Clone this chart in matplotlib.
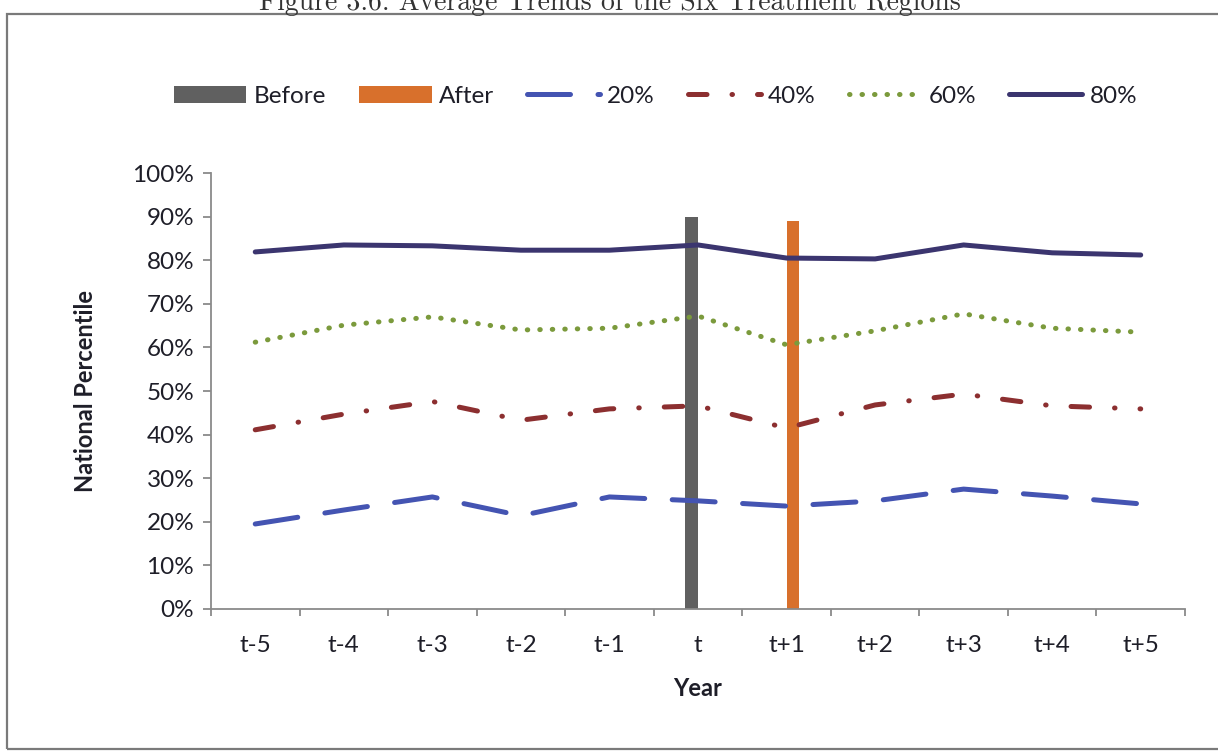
import matplotlib
matplotlib.use("Agg")
import matplotlib.pyplot as plt
import matplotlib.patches as mpatches
from matplotlib.ticker import FixedLocator, PercentFormatter
import numpy as np

plt.rcParams['font.family'] = ['Lato', 'DejaVu Sans']

years = ["t-5", "t-4", "t-3", "t-2", "t-1", "t", "t+1", "t+2", "t+3", "t+4", "t+5"]
before = [np.nan, np.nan, np.nan, np.nan, np.nan, 90, np.nan, np.nan, np.nan, np.nan, np.nan]
after = [np.nan, np.nan, np.nan, np.nan, np.nan, np.nan, 89, np.nan, np.nan, np.nan, np.nan]
p20 = [19.5, 22.7, 25.7, 21.4, 25.7, 24.8, 23.6, 24.8, 27.5, 25.9, 24.1]
p40 = [41.1, 44.7, 47.6, 43.3, 45.9, 46.6, 41.5, 46.8, 49.3, 46.6, 45.9]
p60 = [61.2, 65.1, 67.0, 64.0, 64.4, 67.2, 60.6, 63.8, 67.7, 64.4, 63.5]
p80 = [81.9, 83.5, 83.3, 82.3, 82.3, 83.5, 80.5, 80.3, 83.5, 81.7, 81.2]

fig = plt.figure(figsize=(12.18, 7.51), dpi=100)
ax = fig.add_axes([0.1732, 0.1891, 0.7997, 0.5805])

x = np.arange(len(years))
w = 0.145
ax.bar(x - w / 2, before, w, color="#606060", label="Before", zorder=2)
ax.bar(x + w / 2, after, w, color="#d8702c", label="After", zorder=2)

lw = 3.6
ax.plot(x, p20, color="#4454b2", lw=lw, dashes=(8.6, 5.5), dash_capstyle="round",
        label="20%", zorder=3)
ax.plot(x, p40, color="#8c2f30", lw=lw, dashes=(3.7, 5.0, 0.1, 5.0), dash_capstyle="round",
        label="40%", zorder=3)
ax.plot(x, p60, color="#7b9a3c", lw=lw, dashes=(0.1, 2.4), dash_capstyle="round",
        label="60%", zorder=3)
ax.plot(x, p80, color="#3b356f", lw=lw, solid_capstyle="round", label="80%", zorder=3)

ax.set_xlim(-0.5, len(years) - 0.5)
ax.set_ylim(0, 100)
ax.yaxis.set_major_locator(FixedLocator(np.arange(0, 101, 10)))
ax.yaxis.set_major_formatter(PercentFormatter(decimals=0))
ax.set_xticks(x)
ax.set_xticklabels(years)
ax.xaxis.set_minor_locator(FixedLocator(np.arange(-0.5, len(years), 1)))

for s in ["top", "right"]:
    ax.spines[s].set_visible(False)
for s in ["left", "bottom"]:
    ax.spines[s].set_color("#8a8a8a")
    ax.spines[s].set_linewidth(1.3)

txt = "#1e1e28"
ax.tick_params(axis="y", length=6, width=1.3, color="#8a8a8a", pad=6,
               labelsize=17.5, labelcolor=txt)
ax.tick_params(axis="x", which="major", length=0, pad=19, labelsize=17.5, labelcolor=txt)
ax.tick_params(axis="x", which="minor", length=5, width=1.3, color="#8a8a8a")

ax.set_ylabel("National Percentile", fontsize=17, fontweight="bold", color=txt)
ax.yaxis.set_label_coords(-0.117, 0.5)
ax.set_xlabel("Year", fontsize=17, fontweight="bold", color=txt)
ax.xaxis.set_label_coords(0.5, -0.155)

# legend in series order: bars first, then the percentile lines
handles, labels = ax.get_legend_handles_labels()
order = ["Before", "After", "20%", "40%", "60%", "80%"]
hmap = dict(zip(labels, handles))
fig.legend([hmap[k] for k in order], order, loc="center", bbox_to_anchor=(0.538, 0.872),
           ncol=6, frameon=False, fontsize=17.5, handlelength=3.0, handletextpad=0.3,
           columnspacing=1.35, labelcolor=txt)

# page frame and figure caption
fig.patches.append(mpatches.Rectangle((7 / 1218, 2 / 751), 1.1, 735 / 751,
                                      transform=fig.transFigure, fill=False,
                                      edgecolor="#7a7a7a", linewidth=1.6))
fig.text(0.5008, 1 - 10 / 751, "Figure 3.6: Average Trends of the Six Treatment Regions",
         ha="center", va="baseline", fontsize=20, family="cmr10", color="#333333")

fig.savefig("out.png", dpi=100)
